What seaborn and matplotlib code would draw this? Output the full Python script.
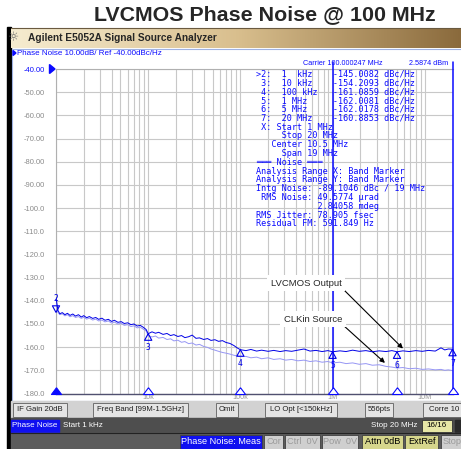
import matplotlib
matplotlib.use("Agg")
import matplotlib.pyplot as plt
import numpy as np
import seaborn as sns
from matplotlib.patches import Rectangle, Polygon
from matplotlib.path import Path as MPath
from matplotlib.ticker import LogLocator, NullFormatter

# 화면 크기 (px)
W, H = 461, 449

# ---- 데이터: 주파수 오프셋(Hz)과 두 트레이스 (dBc/Hz) ----
freqs = [
    1000, 1050, 1100, 1170, 1250, 1330, 1420, 1520, 1630, 1750,
    1880, 2000, 2150, 2300, 2500, 2700, 2900, 3150, 3400, 3700,
    4000, 4300, 4700, 5100, 5500, 6000, 6500, 7000, 7600, 8200,
    8900, 9500, 10000, 11000, 12000, 13000, 14500, 16000, 17500, 19000,
    21000, 23000, 25000, 27500, 30000, 33000, 36000, 40000, 44000, 48000,
    53000, 58000, 64000, 70000, 77000, 85000, 93000,
    100000, 115000, 130000, 150000, 170000, 200000, 230000, 270000, 310000, 360000,
    420000, 490000, 570000, 660000, 770000, 890000,
    1.0e6, 1.2e6, 1.4e6, 1.65e6, 1.95e6, 2.3e6, 2.7e6, 3.2e6, 3.8e6, 4.4e6,
    5.0e6, 5.8e6, 6.8e6, 8.0e6, 9.4e6, 11e6, 13e6, 15e6, 16.5e6, 18e6,
    20e6,
]
lvcmos_output = [
    -138.5, -144.2, -145.6, -145.1, -146.0, -145.4, -146.3, -145.7, -146.6, -146.0,
    -147.0, -146.4, -147.3, -146.8, -147.6, -147.2, -148.0, -147.5, -148.4, -148.0,
    -148.9, -148.4, -149.3, -149.0, -149.8, -149.5, -150.3, -150.0, -150.9, -150.6,
    -151.5, -152.4, -154.2, -153.4, -154.0, -153.6, -154.5, -154.1, -155.0, -154.6,
    -155.4, -155.0, -155.9, -155.5, -154.8, -156.2, -156.0, -156.7, -156.3, -157.1,
    -156.8, -157.5, -157.2, -158.0, -158.4, -159.3, -160.4,
    -161.1, -161.5, -161.0, -161.7, -161.3, -161.8, -161.4, -161.9, -161.5, -161.8,
    -161.3, -160.8, -161.7, -161.4, -161.9, -161.5,
    -162.0, -161.6, -161.9, -161.3, -161.8, -161.5, -162.0, -161.6, -161.9, -161.5,
    -162.0, -161.6, -161.9, -161.5, -161.8, -161.4, -161.7, -160.3, -161.2, -160.8,
    -160.9,
]
clkin_source = [
    -141.0, -145.0, -146.0, -145.6, -146.5, -146.0, -146.9, -146.4, -147.2, -146.8,
    -147.6, -147.1, -147.9, -147.5, -148.3, -147.9, -148.7, -148.3, -149.1, -148.7,
    -149.6, -149.2, -150.0, -149.7, -150.6, -150.3, -151.1, -150.8, -151.7, -151.4,
    -152.3, -153.0, -155.0, -155.6, -155.2, -156.1, -155.8, -156.7, -156.4, -157.3,
    -157.0, -157.9, -157.6, -158.5, -158.2, -159.1, -158.8, -159.7, -160.1, -160.8,
    -161.3, -161.8, -162.3, -162.6, -163.0, -163.5, -163.8,
    -164.1, -164.0, -164.6, -164.3, -165.0, -164.6, -165.3, -165.0, -165.6, -165.3,
    -165.9, -165.6, -166.2, -165.9, -166.5, -166.2,
    -166.8, -166.5, -167.1, -166.8, -167.4, -167.1, -167.8, -167.6, -168.3, -168.6,
    -169.0, -168.8, -169.3, -169.1, -169.6, -169.4, -169.8, -169.6, -170.0, -169.8,
    -170.1,
]

# 마커 (2: 활성 마커)
marker_ids = ["2", "3", "4", "5", "6", "7"]
marker_freqs = [1e3, 1e4, 1e5, 1e6, 5e6, 20e6]
marker_values = [-145.0082, -154.2093, -161.0859, -162.0081, -162.0178, -160.8853]
band_marker_freqs = [1e6, 20e6]

y_ticks = [-40, -50, -60, -70, -80, -90, -100, -110, -120, -130, -140, -150, -160, -170, -180]
y_labels = ["-40.00", "-50.00", "-60.00", "-70.00", "-80.00", "-90.00", "-100.0", "-110.0",
            "-120.0", "-130.0", "-140.0", "-150.0", "-160.0", "-170.0", "-180.0"]
x_ticks = [1e3, 1e4, 1e5, 1e6, 1e7]
x_labels = ["", "10k", "100k", "1M", "10M"]

readout_lines = [
    ">2:  1  kHz    -145.0082 dBc/Hz",
    " 3:  10 kHz    -154.2093 dBc/Hz",
    " 4:  100 kHz   -161.0859 dBc/Hz",
    " 5:  1 MHz     -162.0081 dBc/Hz",
    " 6:  5 MHz     -162.0178 dBc/Hz",
    " 7:  20 MHz    -160.8853 dBc/Hz",
    " X: Start 1 MHz",
    "     Stop 20 MHz",
    "   Center 10.5 MHz",
    "     Span 19 MHz",
    "═══ Noise ═══",
    "Analysis Range X: Band Marker",
    "Analysis Range Y: Band Marker",
    "Intg Noise: -89.1046 dBc / 19 MHz",
    " RMS Noise: 49.5774 µrad",
    "            2.84058 mdeg",
    "RMS Jitter: 78.905 fsec",
    "Residual FM: 591.849 Hz",
]

BLUE = "#0a0aff"
TRACE1 = "#0000e6"
TRACE2 = "#9696f4"
GRID = "#c8c8c8"

sns.set_style("white")
plt.rcParams["font.family"] = ["Liberation Sans", "DejaVu Sans"]

fig = plt.figure(figsize=(W / 100, H / 100), dpi=100)
fig.patch.set_facecolor("white")


def pixel_axes(z):
    a = fig.add_axes([0, 0, 1, 1], zorder=z)
    a.set_xlim(0, W)
    a.set_ylim(H, 0)
    a.axis("off")
    a.patch.set_alpha(0)
    return a


bg = pixel_axes(0)

# 메인 그래프 영역
x0, x1, y0, y1 = 56, 452.5, 69, 393.5
ax = fig.add_axes([x0 / W, 1 - y1 / H, (x1 - x0) / W, (y1 - y0) / H], zorder=1)
ax.patch.set_alpha(0)
ov = pixel_axes(2)

# ---- 창 테두리 / 타이틀 ----
fig.text(264.5 / W, 1 - 14.5 / H, "LVCMOS Phase Noise @ 100 MHz", fontsize=15.4,
         fontweight="bold", ha="center", va="center")
bg.add_patch(Rectangle((7, 27), 3.5, H - 27, color="black"))
grad = np.linspace(0, 1, 256).reshape(1, -1)
cmap = matplotlib.colors.LinearSegmentedColormap.from_list("bar", ["#f6ecd0", "#d9bf8e", "#8a6a3c"])
bg.imshow(grad, extent=(10.5, W, 48, 28), aspect="auto", cmap=cmap, zorder=1)
bg.set_xlim(0, W)
bg.set_ylim(H, 0)
bg.plot([10.5, W], [28, 28], color="#6a5a40", lw=0.8)
bg.text(14, 38, "☼", fontsize=9, color="#6a6a6a", ha="center", va="center",
        family="DejaVu Sans")
bg.text(28, 38, "Agilent E5052A Signal Source Analyzer", fontsize=7.3, fontweight="bold",
        ha="left", va="center")
bg.add_patch(Rectangle((11.5, 48.5), W, 352, fill=False, edgecolor="#9fb2e2", lw=0.8))
bg.add_patch(Polygon([(13, 50.5), (13, 55.5), (16, 53)], color=BLUE))
bg.text(16.5, 53.5, "Phase Noise 10.00dB/ Ref -40.00dBc/Hz", fontsize=5.8, color=BLUE,
        ha="left", va="center")

# ---- 트레이스 ----
ax.set_xscale("log")
sns.lineplot(x=freqs, y=clkin_source, ax=ax, color=TRACE2, lw=0.7, zorder=3)
sns.lineplot(x=freqs, y=lvcmos_output, ax=ax, color=TRACE1, lw=0.7, zorder=4)
ax.set_xlim(1e3, 2e7)
ax.set_ylim(-180, -40)

ax.set_yticks(y_ticks)
ax.set_yticklabels(y_labels)
ax.set_xticks(x_ticks)
ax.set_xticklabels(x_labels)
ax.xaxis.set_minor_locator(LogLocator(base=10, subs=np.arange(2, 10)))
ax.xaxis.set_minor_formatter(NullFormatter())
ax.tick_params(axis="y", length=0, pad=8, labelsize=5.4, labelcolor="#8a8a8a")
ax.tick_params(axis="x", which="both", length=0, pad=0.5, labelsize=5.2, labelcolor="#9a9a9a")
ax.yaxis.get_ticklabels()[0].set_color(BLUE)
ax.xaxis.grid(True, which="both", color=GRID, lw=0.8)
ax.yaxis.grid(True, which="major", color=GRID, lw=0.8)
ax.set_axisbelow(True)
for side in ["top", "left"]:
    ax.spines[side].set_color("#b0b0b0")
    ax.spines[side].set_linewidth(0.8)
ax.spines["right"].set_visible(False)
ax.spines["bottom"].set_color("#505070")
ax.spines["bottom"].set_linewidth(1.0)
ax.set_xlabel("")
ax.set_ylabel("")

# 밴드 마커 (1 MHz ~ 20 MHz)
for f in band_marker_freqs:
    ax.axvline(f, ymin=0, ymax=1 + 7 / (y1 - y0), color=BLUE, lw=1.1, clip_on=False, zorder=5)

# 마커 삼각형과 번호
tri_down = MPath([(0, 0), (-0.55, 1), (0.55, 1), (0, 0)])
tri_up = MPath([(0, 0), (-0.55, -1), (0.55, -1), (0, 0)])
base_tri = MPath([(0, 1), (-0.75, 0), (0.75, 0), (0, 1)])
for i, (mid, f, v) in enumerate(zip(marker_ids, marker_freqs, marker_values)):
    active = i == 0
    ax.scatter([f], [v], marker=tri_down if active else tri_up, s=90, facecolors="none",
               edgecolors=TRACE1, linewidths=0.8, zorder=6, clip_on=False)
    ax.annotate(mid, (f, v), xytext=(0, 10 if active else -10), textcoords="offset points",
                ha="center", va="center", fontsize=5.8, color=TRACE1,
                family="DejaVu Sans Mono", annotation_clip=False)
    ax.scatter([f], [-180], marker=base_tri, s=95,
               facecolors=BLUE if active else "white", edgecolors=BLUE,
               linewidths=0.8, zorder=6, clip_on=False)

# ref 레벨 표시 삼각형
ov.add_patch(Polygon([(49.5, 64.5), (49.5, 73.5), (55, 69)], color=BLUE))

# ---- 마커 리드아웃 ----
ov.text(303, 63.5, "Carrier 100.000247 MHz", fontsize=5.2, color=BLUE, ha="left", va="center")
ov.text(409, 63.5, "2.5874 dBm", fontsize=5.2, color=BLUE, ha="left", va="center")
for i, line in enumerate(readout_lines):
    ov.text(256, 74.3 + 8.8 * i, line, fontsize=6.1, color=BLUE, ha="left", va="center",
            family="DejaVu Sans Mono")

# ---- 주석 화살표 ----
ov.text(306, 283, "LVCMOS Output", fontsize=6.8, ha="center", va="center",
        bbox=dict(facecolor="white", edgecolor="none", pad=2.5))
ov.text(313, 319, "CLKin Source", fontsize=6.8, ha="center", va="center",
        bbox=dict(facecolor="white", edgecolor="none", pad=2.5))
arrow = dict(arrowstyle="-|>", color="black", lw=0.8, mutation_scale=7, shrinkA=0, shrinkB=0)
ax.annotate("", xy=(5.8e6, -160.6), xycoords="data", xytext=(342, 288),
            textcoords=ov.transData, arrowprops=arrow)
ax.annotate("", xy=(3.7e6, -166.8), xycoords="data", xytext=(343, 325),
            textcoords=ov.transData, arrowprops=arrow)

# ---- 하단 상태 표시줄 ----
bg.add_patch(Rectangle((10.5, 401), W, 17, color="#d2d2d2"))
row1 = [(13, 67, "IF Gain 20dB"), (93, 188, "Freq Band [99M-1.5GHz]"), (216, 238, "Omit"),
        (265, 337, "LO Opt [<150kHz]"), (365, 393, "556pts"), (423, 470, "Corre 10")]
for a, b, s in row1:
    bg.add_patch(Rectangle((a, 403), b - a, 13.5, facecolor="#e4e4e4", edgecolor="#707070", lw=0.7))
    bg.text((a + min(b, 461)) / 2 + (2 if b > 461 else 0), 409.8, s, fontsize=5.6,
            ha="center", va="center", color="#202020")

bg.add_patch(Rectangle((10.5, 418), W, 14.5, color="#4e4e4e"))
bg.add_patch(Rectangle((10.5, 419.5), 48, 12, color="#1010f0"))
bg.text(34.5, 425.5, "Phase Noise", fontsize=5.8, color="white", ha="center", va="center")
bg.text(63, 425.5, "Start 1 kHz", fontsize=5.8, color="white", ha="left", va="center")
bg.text(417, 425.5, "Stop 20 MHz", fontsize=5.8, color="white", ha="right", va="center")
bg.add_patch(Rectangle((422, 419.5), 30, 12, facecolor="#e6e6a6", edgecolor="#303030", lw=0.6))
bg.text(437, 425.5, "16/16", fontsize=5.8, color="black", ha="center", va="center")
bg.add_patch(Rectangle((455, 419.5), 10, 12, color="#2a2a2a"))

bg.add_patch(Rectangle((10.5, 432.5), W, 17, color="#5c5c5c"))
bg.plot([10.5, W], [432.8, 432.8], color="#222222", lw=0.8)
row3 = [(180, 262, "Phase Noise: Meas", "#1010f0", "white"),
        (264, 283, "Cor", "#cfcfcf", "#9a9a9a"),
        (285, 320, "Ctrl  0V", "#cfcfcf", "#9a9a9a"),
        (322, 358, "Pow  0V", "#cfcfcf", "#9a9a9a"),
        (362, 403, "Attn 0dB", "#d6d68c", "black"),
        (405, 438, "ExtRef", "#d6d68c", "black"),
        (441, 470, "Stop", "#cfcfcf", "#9a9a9a")]
for a, b, s, fc, tc in row3:
    bg.add_patch(Rectangle((a, 434.5), b - a, 14, facecolor=fc, edgecolor="#404040", lw=0.6))
    bg.text(a + 2 if b > 461 else (a + b) / 2, 441.5, s, fontsize=6.6, color=tc,
            ha="left" if b > 461 else "center", va="center")

fig.savefig("out.png", dpi=100)
